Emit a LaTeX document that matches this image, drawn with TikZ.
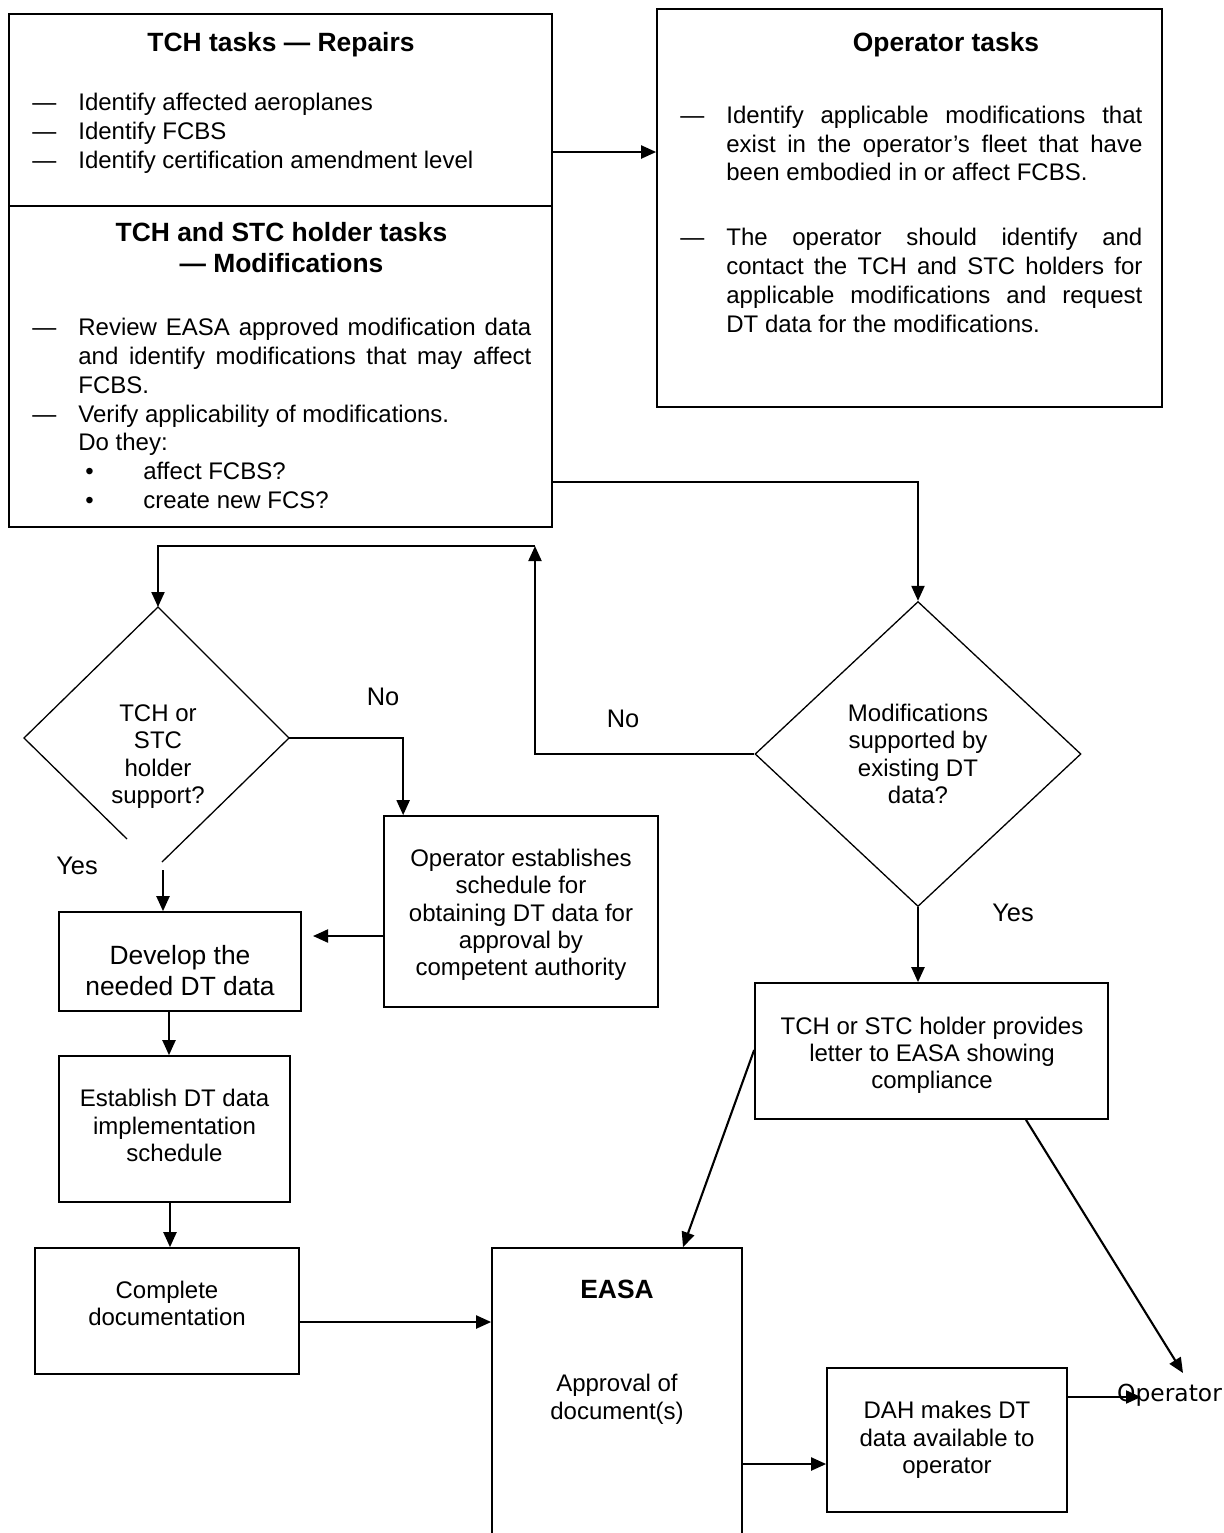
\documentclass[tikz,border=0pt]{standalone}
\usepackage{fontspec}
\setmainfont{Liberation Sans}
\newfontfamily\dejavu{DejaVu Sans}
\usetikzlibrary{arrows.meta,fit,shapes.geometric}
\newcommand\jline[2]{\makebox[#1][s]{#2}}
\newcommand\dashcol{\makebox[23pt][l]{—}}
\newcommand\indcol{\hspace*{23pt}}
\newcommand\bulcol{\hspace*{26.5pt}\makebox[29pt][l]{•}}
\begin{document}
\begin{tikzpicture}[x=0.5pt,y=-0.5pt,
  box/.style={draw, line width=0.85pt, inner sep=0pt},
  conn/.style={line width=1.05pt, -{Triangle[length=7.5pt,width=6.5pt]}},
  dia/.style={line width=0.65pt},
  txt/.style={inner sep=0pt, align=center, font=\fontsize{12}{13.7}\selectfont},
  head/.style={inner sep=0pt, align=center, font=\bfseries\fontsize{13.2}{15.5}\selectfont},
  lab/.style={inner sep=0pt, font=\fontsize{12.7}{15}\selectfont},
  list/.style={inner sep=0pt, align=left, anchor=west, font=\fontsize{12}{14.4}\selectfont},
]
\useasboundingbox (0,0) rectangle (1224,1533);

% ---------- top boxes
\node[box, fit={(9,14) (552,206)}] (rep) {};
\node[box, fit={(9,206) (552,527)}] (mod) {};
\node[box, fit={(657,9) (1162,407)}] (op) {};

\node[head] (repH) at (281,44.6) {TCH tasks — Repairs};
\node[list] (repL) at (32,133) {\dashcol Identify affected aeroplanes\\
\dashcol Identify FCBS\\
\dashcol Identify certification amendment level};

\node[head] (modH) at (281.5,247.5) {TCH and STC holder tasks\\— Modifications};
\node[list] (modL) at (32,413.5) {\dashcol\jline{226.5pt}{Review EASA approved modification data}\\
\indcol\jline{226.5pt}{and identify modifications that may affect}\\
\indcol FCBS.\\
\dashcol Verify applicability of modifications.\\
\indcol Do they:\\
\bulcol affect FCBS?\\
\bulcol create new FCS?};

\node[head] (opH) at (946,44.6) {Operator tasks};
\node[list] (opL1) at (680,143.5) {\dashcol\jline{208pt}{Identify applicable modifications that}\\
\indcol\jline{208pt}{exist in the operator’s fleet that have}\\
\indcol been embodied in or affect FCBS.};
\node[list] (opL2) at (680,280.5) {\dashcol\jline{208pt}{The operator should identify and}\\
\indcol\jline{208pt}{contact the TCH and STC holders for}\\
\indcol\jline{208pt}{applicable modifications and request}\\
\indcol DT data for the modifications.};

\coordinate (hA) at (0,152);
\draw[conn] (rep.east |- hA) -- (op.west |- hA);

% ---------- right diamond
\node[draw, diamond, dia, minimum width=163pt, minimum height=152.5pt, txt] (rdia) at (918,754)
  {Modifications\\supported by\\existing DT\\data?};
\coordinate (hB) at (0,482);
\draw[conn] (mod.east |- hB) -| (rdia.north);

% ---------- left diamond (open at the bottom)
\coordinate (ldT) at (158,607);
\coordinate (ldL) at (24,738);
\coordinate (ldR) at (289,738);
\coordinate (ldA) at (127,839);
\coordinate (ldB) at (162,862);
\draw[dia] (ldA) -- (ldL) -- (ldT) -- (ldR) -- (ldB);
\node[txt] (ldtxt) at (158,756.4) {TCH or\\STC\\holder\\support?};

% loop from right diamond "No"
\coordinate (loopT) at (535,546);
\draw[conn] (rdia.west) -| (loopT);
\draw[conn] (loopT) -| (ldT);
\node[lab] (no2) at (623,719) {No};

% ---------- boxes lower left
\node[box, fit={(384,816) (658,1007)}] (opest) {};
\node[txt, font=\fontsize{12}{13.6}\selectfont] (opestT) at (521,914.9)
  {Operator establishes\\schedule for\\obtaining DT data for\\approval by\\competent authority};
\node[lab] (no1) at (383,697) {No};
\draw[conn] (ldR) -| ([xshift=10pt]opest.north west);

\node[box, fit={(59,912) (301,1011)}] (dev) {};
\node[txt, font=\fontsize{13.2}{15.5}\selectfont] (devT) at (180,970.5) {Develop the\\needed DT data};
\node[lab] (yes1) at (77,866) {Yes};
\coordinate (ySt) at (163,870);
\draw[conn] (ySt) -- (ySt |- dev.north);
\coordinate (devGap) at (313,936);
\draw[conn] (opest.west |- devGap) -- (devGap);

\node[box, fit={(59,1056) (290,1202)}] (est) {};
\node[txt, font=\fontsize{12}{13.75}\selectfont] (estT) at (174.5,1125.5) {Establish DT data\\implementation\\schedule};
\coordinate (vA) at (169,0);
\draw[conn] (dev.south -| vA) -- (est.north -| vA);

\node[box, fit={(35,1248) (299,1374)}] (comp) {};
\node[txt, font=\fontsize{12}{13.5}\selectfont] (compT) at (167,1303.5) {Complete\\documentation};
\coordinate (vB) at (170,0);
\draw[conn] (est.south -| vB) -- (comp.north -| vB);

% ---------- EASA
\node[box, fit={(492,1248) (742,1560)}] (easa) {};
\node[head] (easaH) at (617,1289) {EASA};
\node[txt, font=\fontsize{12}{14}\selectfont] (easaT) at (617,1399) {Approval of\\document(s)};
\coordinate (hC) at (0,1322);
\draw[conn] (comp.east |- hC) -- (easa.west |- hC);

% ---------- right lower
\node[box, fit={(755,983) (1108,1119)}] (prov) {};
\node[txt, font=\fontsize{12}{13.5}\selectfont] (provT) at (932,1055.4) {TCH or STC holder provides\\letter to EASA showing\\compliance};
\draw[conn] (rdia.south) -- (rdia.south |- prov.north);
\node[lab] (yes2) at (1013,913) {Yes};

\node[box, fit={(827,1368) (1067,1512)}] (dah) {};
\node[txt, font=\fontsize{12}{13.75}\selectfont] (dahT) at (947,1440) {DAH makes DT\\data available to\\operator};
\coordinate (hD) at (0,1464);
\draw[conn] (easa.east |- hD) -- (dah.west |- hD);

\coordinate (hE) at (0,1050);
\coordinate (vE) at (683,0);
\draw[conn] (prov.west |- hE) -- (easa.north -| vE);

\node[inner sep=0pt, font=\dejavu\fontsize{11.7}{14}\selectfont] (oplab) at (1169.5,1395) {Operator};
\coordinate (vF) at (1026,0);
\coordinate (opTip) at (1183,1373);
\draw[conn] (prov.south -| vF) -- (opTip);
\coordinate (opArr) at (1141,1397);
\draw[conn] (dah.east |- opArr) -- (opArr);
\end{tikzpicture}
\end{document}
